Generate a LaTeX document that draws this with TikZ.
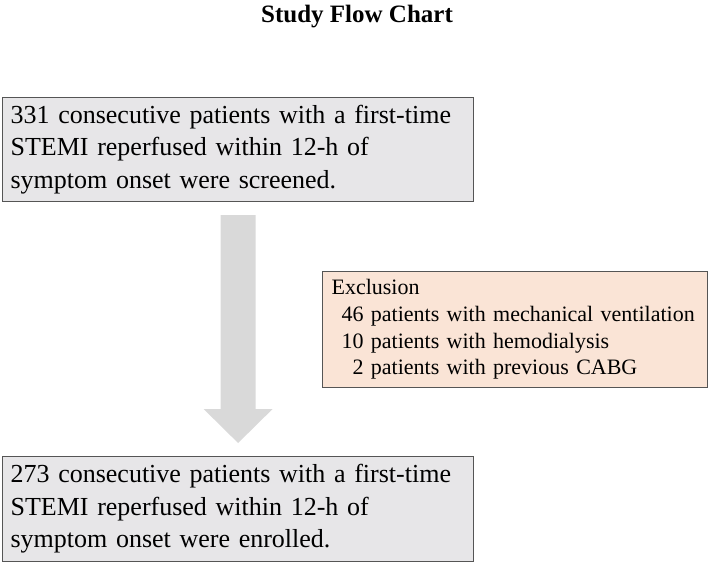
\documentclass[tikz,border=0pt]{standalone}
\usepackage{fontspec}
\setmainfont{Liberation Serif}
\usetikzlibrary{calc}

\definecolor{boxgray}{RGB}{231,230,232}
\definecolor{exclpeach}{RGB}{250,228,214}
\definecolor{arrowgray}{RGB}{217,217,217}
\definecolor{edgegray}{RGB}{85,85,85}

\tikzset{
    stepbox/.style={draw=edgegray, line width=1.2pt, fill=boxgray, anchor=north west,
        text width=455pt, minimum width=471pt, minimum height=104pt,
        inner xsep=8pt, inner ysep=0pt, align=left,
        font=\fontsize{26}{32.5}\selectfont},
    exclbox/.style={stepbox, fill=exclpeach, text width=367pt, minimum width=385pt,
        minimum height=116pt, font=\fontsize{22}{26.7}\selectfont}
}

\begin{document}
\begin{tikzpicture}[x=1pt, y=-1pt]
    \useasboundingbox (0,0) rectangle (709,562);

    \node[anchor=base, font=\fontsize{25}{30}\selectfont\bfseries] (title) at (357,22) {Study Flow Chart};

    \node[stepbox] (screened) at (2,97)
        {331 consecutive patients with a first-time\\
         STEMI reperfused within 12-h of\\
         symptom onset were screened.};

    \node[stepbox, minimum height=105pt] (enrolled) at (2,456)
        {273 consecutive patients with a first-time\\
         STEMI reperfused within 12-h of\\
         symptom onset were enrolled.};

    \node[exclbox] (exclusion) at (322,271)
        {Exclusion\\
         \hspace*{10pt}46 patients with mechanical ventilation\\
         \hspace*{10pt}10 patients with hemodialysis\\
         \hspace*{10pt}\phantom{1}2 patients with previous CABG};

    % block arrow between the two boxes
    \coordinate (arrtop) at ($(screened.south)+(0,13)$);
    \coordinate (arrtip) at ($(enrolled.north)+(0,-13)$);
    \fill[arrowgray] ($(arrtop)+(-17.5,0)$) -- ($(arrtop)+(17.5,0)$)
        -- ($(arrtip)+(17.5,-34)$) -- ($(arrtip)+(34.5,-34)$) -- (arrtip)
        -- ($(arrtip)+(-34.5,-34)$) -- ($(arrtip)+(-17.5,-34)$) -- cycle;
\end{tikzpicture}
\end{document}
